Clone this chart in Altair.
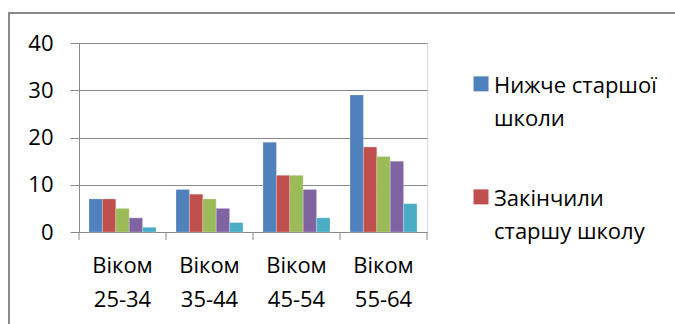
import altair as alt
import pandas as pd

# Age groups on the x axis and education levels as the grouped series
age_groups = ["Віком 25-34", "Віком 35-44", "Віком 45-54", "Віком 55-64"]
series = [
    "Нижче старшої школи",
    "Закінчили старшу школу",
    "Деякий коледж",
    "Молодший спеціаліст",
    "Бакалавр і вище",
]
colors = ["#4F81BD", "#C0504D", "#9BBB59", "#8064A2", "#4BACC6"]

values = {
    "Нижче старшої школи": [7, 9, 19, 29],
    "Закінчили старшу школу": [7, 8, 12, 18],
    "Деякий коледж": [5, 7, 12, 16],
    "Молодший спеціаліст": [3, 5, 9, 15],
    "Бакалавр і вище": [1, 2, 3, 6],
}
y_ticks = [0, 10, 20, 30, 40]
group_edges = [0, 1, 2, 3, 4]

rows = []
for s in series:
    for g, v in zip(age_groups, values[s]):
        rows.append({"group": g, "series": s, "value": v})
df = pd.DataFrame(rows)

W, H = 348, 189
GRID = "#898989"
FONT = "Open Sans"
FS = 22

legend_lines = (
    "datum.label == 'Нижче старшої школи' ? ['Нижче старшої', 'школи'] : "
    "['Закінчили', 'старшу школу']"
)

bars = alt.Chart(df).mark_bar(stroke="white", strokeWidth=0.4, strokeOpacity=0.6).encode(
    x=alt.X(
        "group:N",
        sort=age_groups,
        title=None,
        scale=alt.Scale(paddingInner=0.23, paddingOuter=0.115),
        axis=alt.Axis(
            labelAngle=0,
            ticks=False,
            domainColor=GRID,
            domainWidth=1,
            labelExpr="split(datum.label, ' ')",
            labelFontSize=FS,
            labelColor="black",
            labelPadding=23,
            labelBaseline="top",
            labelLineHeight=34,
        ),
    ),
    xOffset=alt.XOffset("series:N", sort=series, scale=alt.Scale(paddingInner=0, paddingOuter=0)),
    y=alt.Y(
        "value:Q",
        title=None,
        scale=alt.Scale(domain=[0, 40], nice=False),
        axis=alt.Axis(
            values=y_ticks,
            tickSize=9,
            tickColor=GRID,
            domainColor=GRID,
            gridColor=GRID,
            gridWidth=1,
            labelFontSize=FS,
            labelColor="black",
            labelPadding=17,
        ),
    ),
    color=alt.Color(
        "series:N",
        sort=series,
        scale=alt.Scale(domain=series, range=colors),
        legend=alt.Legend(
            values=series[:2],
            title=None,
            orient="none",
            legendX=391,
            legendY=22,
            padding=0,
            labelExpr=legend_lines,
            labelFontSize=FS,
            labelColor="black",
            labelBaseline="top",
            labelOffset=2,
            labelLimit=300,
            symbolType="M-1,0.05L1,0.05L1,2.05L-1,2.05Z",
            symbolSize=225,
            symbolStrokeWidth=0,
            symbolOpacity=1,
            rowPadding=48,
        ),
    ),
)

# Downward ticks at the category boundaries of the x axis
edges = alt.Chart(pd.DataFrame({"edge": group_edges})).mark_rule(color=GRID, strokeWidth=1).encode(
    x=alt.X("edge:Q", scale=alt.Scale(domain=[0, 4], nice=False, zero=False), axis=None),
    y=alt.value(H),
    y2=alt.value(H + 8),
)

# Chart area frame
frame = alt.Chart(pd.DataFrame({"f": [0]})).mark_rect(
    fill="transparent", stroke=GRID, strokeWidth=2
).encode(
    x=alt.value(-70),
    x2=alt.value(W + 400),
    y=alt.value(-30),
    y2=alt.value(H + 300),
)

chart = (
    alt.layer(bars, edges, frame)
    .resolve_scale(x="independent")
    .properties(
        width=W,
        height=H,
        autosize=alt.AutoSizeParams(type="none"),
        padding={"left": 79, "top": 43, "right": 248, "bottom": 92},
        background="white",
    )
    .configure_view(stroke=None)
    .configure(font=FONT, style={"guide-label": {"lineHeight": 33}})
)

chart.save("out.html", embed_options={"renderer": "svg", "actions": False})
